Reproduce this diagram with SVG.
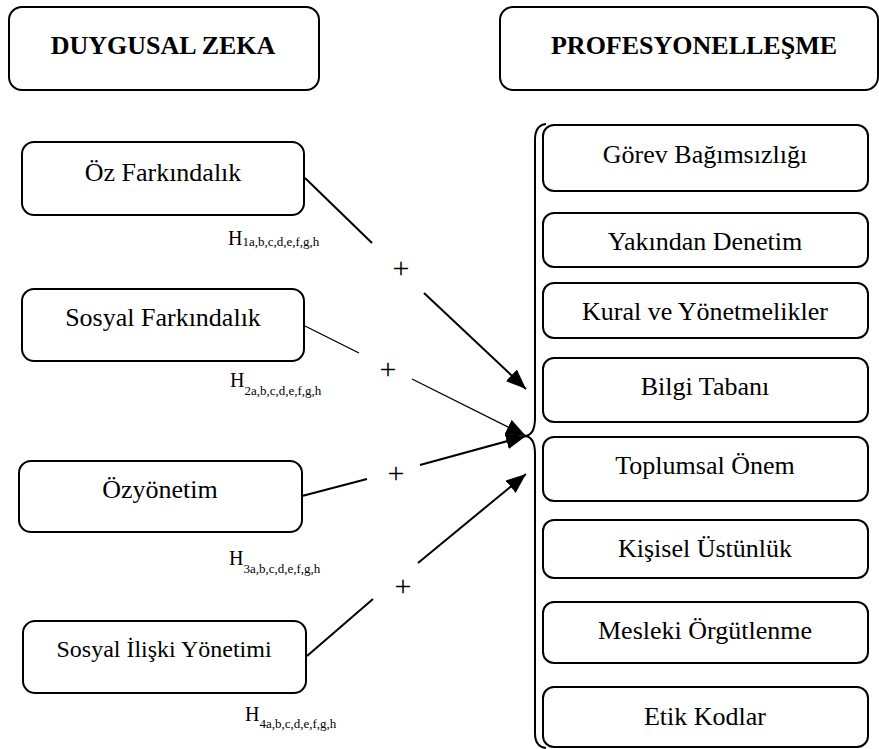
<svg xmlns="http://www.w3.org/2000/svg" width="879" height="749" viewBox="0 0 879 749" font-family="'Liberation Serif', 'DejaVu Serif', serif">
<style>
.box{fill:#fff;stroke:#000;stroke-width:2}
text{font-family:'Liberation Serif','DejaVu Serif',serif;fill:#000}
.t{text-anchor:middle}
.hd{font-size:26px;font-weight:bold}
.lb{font-size:26px}
.h{font-size:20px}
.sub{font-size:13px}
.pl{font-size:30px;text-anchor:middle}
.c{fill:none;stroke:#000;stroke-width:2}
.thin{stroke-width:1.3}
</style>
<defs>
<marker id="ah" markerUnits="userSpaceOnUse" markerWidth="22" markerHeight="16" refX="20" refY="8" orient="auto">
<path d="M0,0 L20,8 L0,16 Z" fill="#000"/>
</marker>
</defs>
<rect width="879" height="749" fill="#fff"/>
<g id="duygusal-zeka"><rect class="box" x="9" y="7" width="310" height="83" rx="13"/><text class="t hd" x="163" y="54">DUYGUSAL ZEKA</text></g>
<g id="profesyonellesme"><rect class="box" x="500" y="7" width="378" height="83" rx="13"/><text class="t hd" x="694" y="54">PROFESYONELLEŞME</text></g>
<g id="oz-farkindalik"><rect class="box" x="22" y="142" width="282" height="73" rx="12"/><text class="t lb" x="163" y="181">Öz Farkındalık</text></g>
<g id="sosyal-farkindalik"><rect class="box" x="22" y="289" width="282" height="72" rx="12"/><text class="t lb" x="163" y="326">Sosyal Farkındalık</text></g>
<g id="ozyonetim"><rect class="box" x="19" y="461" width="283" height="71" rx="12"/><text class="t lb" x="160" y="498">Özyönetim</text></g>
<g id="sosyal-iliski"><rect class="box" x="23" y="621" width="283" height="72" rx="12"/><text class="t lb" x="164" y="657" style="font-size:24px">Sosyal İlişki Yönetimi</text></g>
<g id="gorev"><rect class="box" x="543" y="125" width="325" height="66" rx="11"/><text class="t lb" x="705" y="163">Görev Bağımsızlığı</text></g>
<g id="yakindan"><rect class="box" x="543" y="213" width="325" height="54" rx="11"/><text class="t lb" x="705" y="250">Yakından Denetim</text></g>
<g id="kural"><rect class="box" x="543" y="283" width="325" height="55" rx="11"/><text class="t lb" x="705" y="320">Kural ve Yönetmelikler</text></g>
<g id="bilgi"><rect class="box" x="543" y="358" width="325" height="64" rx="11"/><text class="t lb" x="705" y="395">Bilgi Tabanı</text></g>
<g id="toplumsal"><rect class="box" x="543" y="437" width="325" height="64" rx="11"/><text class="t lb" x="705" y="474">Toplumsal Önem</text></g>
<g id="kisisel"><rect class="box" x="543" y="520" width="325" height="58" rx="11"/><text class="t lb" x="705" y="557">Kişisel Üstünlük</text></g>
<g id="mesleki"><rect class="box" x="543" y="602" width="325" height="61" rx="11"/><text class="t lb" x="705" y="639">Mesleki Örgütlenme</text></g>
<g id="etik"><rect class="box" x="543" y="687" width="325" height="60" rx="11"/><text class="t lb" x="705" y="725">Etik Kodlar</text></g>
<g id="brace"><path class="c" d="M546,124 Q535,125 535,140 L535,418 Q535,436 524,436 Q535,436 535,454 L535,733 Q535,747 546,748"/></g>
<g id="connectors">
<line class="c" x1="305" y1="178" x2="372" y2="243"/>
<line class="c" x1="424" y1="293" x2="526" y2="389" marker-end="url(#ah)"/>
<line class="c thin" x1="305" y1="326" x2="359" y2="353"/>
<line class="c thin" x1="412" y1="379" x2="526" y2="436" marker-end="url(#ah)"/>
<line class="c" x1="302" y1="496" x2="367" y2="479"/>
<line class="c" x1="420" y1="465" x2="526" y2="436" marker-end="url(#ah)"/>
<line class="c" x1="307" y1="656" x2="373" y2="599"/>
<line class="c" x1="418" y1="563" x2="526" y2="474" marker-end="url(#ah)"/>
</g>
<g id="labels">
<text class="pl" x="401" y="278">+</text>
<text class="pl" x="388" y="379">+</text>
<text class="pl" x="396" y="483">+</text>
<text class="pl" x="403" y="596">+</text>
<text class="h" x="228" y="245">H<tspan class="sub" dy="1">1a,b,c,d,e,f,g,h</tspan></text>
<text class="h" x="230" y="387">H<tspan class="sub" dy="8">2a,b,c,d,e,f,g,h</tspan></text>
<text class="h" x="229" y="565">H<tspan class="sub" dy="8">3a,b,c,d,e,f,g,h</tspan></text>
<text class="h" x="245" y="721">H<tspan class="sub" dy="7">4a,b,c,d,e,f,g,h</tspan></text>
</g>
</svg>
